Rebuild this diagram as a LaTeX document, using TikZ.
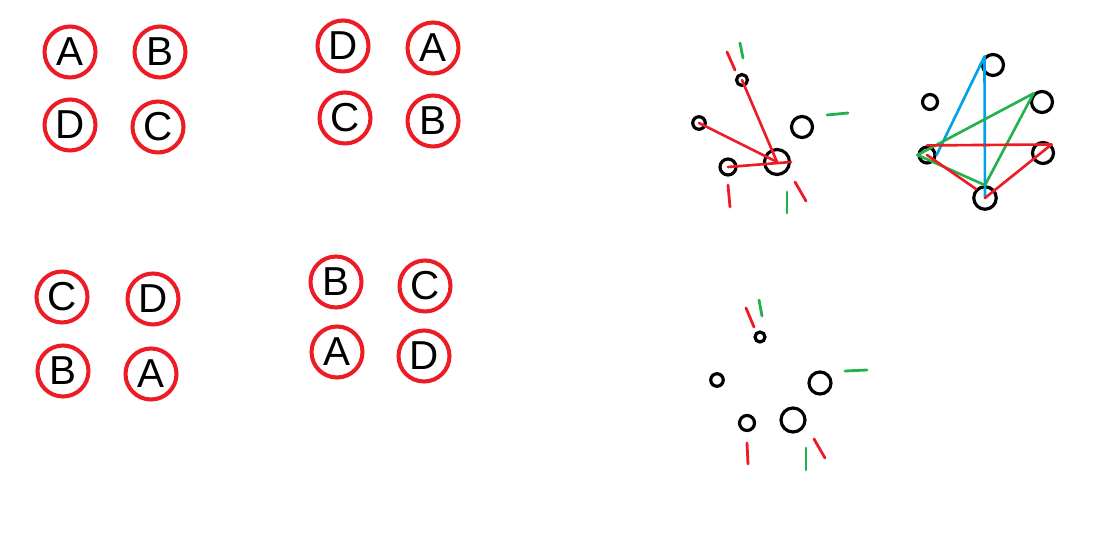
\documentclass[tikz,border=0pt]{standalone}
\usepackage{fontspec}
\setsansfont{Liberation Sans}
\usetikzlibrary{positioning}

\definecolor{pred}{RGB}{237,28,36}
\definecolor{pgreen}{RGB}{34,177,76}
\definecolor{pblue}{RGB}{0,162,232}

\begin{document}
\begin{tikzpicture}[
    x=0.02cm, y=-0.02cm,
    letter/.style={circle, draw=pred, line width=2.3pt, minimum size=1.02cm, inner sep=0pt,
        font=\sffamily\fontsize{23}{23}\selectfont},
    blob/.style={circle, draw=black, line width=1.8pt, inner sep=0pt, minimum size=#1},
    blob/.default=0.3cm,
    link/.style={line width=1.5pt, line cap=round},
    tick/.style={line width=1.6pt, line cap=round}
]
\useasboundingbox (0,0) rectangle (1096,547);

% First arrangement
\node[letter] (a1) at (70,52) {A};
\node[letter] (b1) at (160,52) {B};
\node[letter] (d1) at (70,125) {D};
\node[letter] (c1) at (158,127) {C};

% Second arrangement
\node[letter] (d2) at (343,46) {D};
\node[letter] (a2) at (433,48) {A};
\node[letter] (c2) at (345,118) {C};
\node[letter] (b2) at (433,121) {B};

% Third arrangement
\node[letter] (c3) at (62,297) {C};
\node[letter] (d3) at (153,299) {D};
\node[letter] (b3) at (63,371) {B};
\node[letter] (a3) at (151,374) {A};

% Fourth arrangement
\node[letter] (b4) at (336,282) {B};
\node[letter] (c4) at (425,286) {C};
\node[letter] (a4) at (337,352) {A};
\node[letter] (d4) at (424,356) {D};

% Points with red links to one point
\node[blob=0.22cm] (p1) at (742,80) {};
\node[blob=0.25cm] (p2) at (699,123) {};
\node[blob=0.42cm] (p3) at (802,127) {};
\node[blob=0.32cm] (p4) at (728,167) {};
\node[blob=0.5cm] (p5) at (777,162) {};

\draw[link, pred] (p1.center) -- (p5.center);
\draw[link, pred] (p2.center) -- (p5.center);
\draw[link, pred] (p4.center) -- (p5.east);

% ticks round the first points
\draw[tick, pred] (727,52) -- (735,70);
\draw[tick, pgreen] (740,43) -- (743,58);
\draw[tick, pgreen] (827,115) -- (848,113);
\draw[tick, pred] (728,185) -- (730,207);
\draw[tick, pgreen] (787,192) -- (787,213);
\draw[tick, pred] (795,182) -- (806,201);

% Points joined by coloured lines
\node[blob=0.42cm] (q1) at (993,65) {};
\node[blob=0.3cm] (q2) at (930,102) {};
\node[blob=0.42cm] (q3) at (1042,102) {};
\node[blob=0.32cm] (q4) at (927,155) {};
\node[blob=0.42cm] (q5) at (1043,153) {};
\node[blob=0.45cm] (q6) at (985,198) {};

\draw[link, pblue] (q1.north west) -- (q4.east);
\draw[link, pblue] (q1.north west) -- (q6.center);
\draw[link, pgreen] (q4.west) -- (q3.north west);
\draw[link, pgreen] (q3.north west) -- (q6.north);
\draw[link, pgreen] (q4.west) -- (q6.north);
\draw[link, pred] (q4.north) -- (q5.north east);
\draw[link, pred] (q5.north east) -- (q6.center);
\draw[link, pred] (q4.center) -- (q6.north west);

% Points without links
\node[blob=0.2cm] (r1) at (760,337) {};
\node[blob=0.25cm] (r2) at (717,380) {};
\node[blob=0.44cm] (r3) at (820,383) {};
\node[blob=0.3cm] (r4) at (747,423) {};
\node[blob=0.48cm] (r5) at (793,420) {};

% ticks round the last points
\draw[tick, pred] (746,308) -- (754,327);
\draw[tick, pgreen] (759,300) -- (762,316);
\draw[tick, pgreen] (845,371) -- (867,370);
\draw[tick, pred] (747,443) -- (748,464);
\draw[tick, pgreen] (806,448) -- (806,470);
\draw[tick, pred] (814,439) -- (825,458);

\end{tikzpicture}
\end{document}
